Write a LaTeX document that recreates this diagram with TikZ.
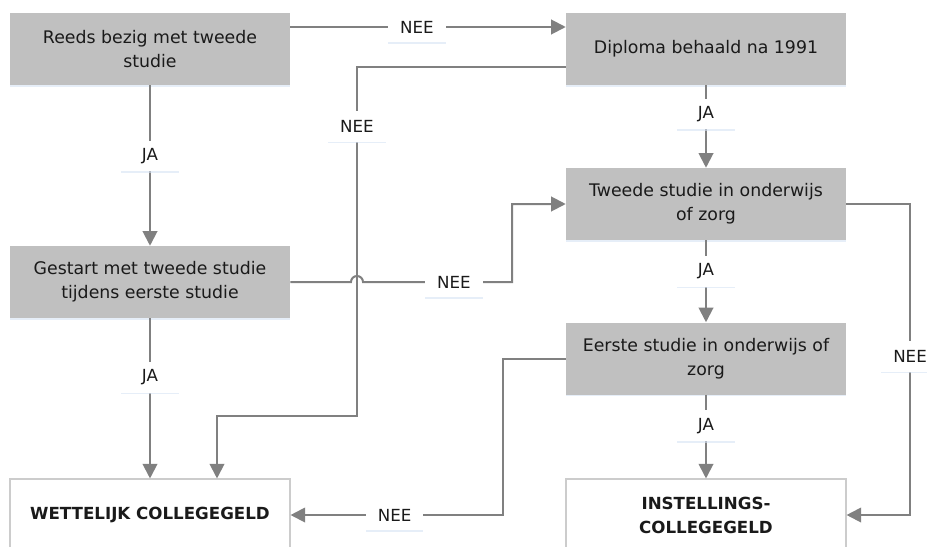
\documentclass[tikz,border=0pt]{standalone}
\usepackage{fontspec}
\setmainfont{DejaVu Sans}
\usepackage{xcolor}
\usetikzlibrary{arrows.meta,shadows}

\definecolor{vraaggrijs}{RGB}{192,192,192}
\definecolor{lijngrijs}{RGB}{128,128,128}
\definecolor{randgrijs}{RGB}{204,204,204}
\definecolor{tekstzwart}{RGB}{26,26,26}
\definecolor{schaduw}{RGB}{214,226,244}

\begin{document}
\begin{tikzpicture}[x=0.75pt,y=0.75pt,yscale=-1,xscale=1,
  vraag/.style={fill=vraaggrijs, minimum width=210pt, minimum height=54pt, inner sep=0pt,
    align=center, text=tekstzwart, font=\fontsize{13}{18}\selectfont,
    drop shadow={shadow xshift=0pt, shadow yshift=-1.2pt, fill=schaduw, opacity=0.6}},
  uitkomst/.style={draw=randgrijs, line width=0.8pt, fill=white, minimum width=210pt, minimum height=54pt,
    inner sep=0pt, align=center, text=tekstzwart, font=\fontsize{12.5}{18}\selectfont\bfseries},
  lbl/.style={fill=white, minimum width=43pt, minimum height=23pt, inner sep=0pt, text=tekstzwart,
    font=\fontsize{12.5}{14}\selectfont,
    drop shadow={shadow xshift=0pt, shadow yshift=-1.2pt, fill=schaduw, opacity=0.6}},
  pijl/.style={draw=lijngrijs, line width=1.5pt, -{Triangle[length=11pt,width=11pt]}}]
\useasboundingbox (0,0) rectangle (927,546);

% Vragen
\node[vraag] (reeds) at (150,49) {Reeds bezig met tweede\\studie};
\node[vraag] (diploma) at (706,49) {Diploma behaald na 1991};
\node[vraag] (gestart) at (150,282) {Gestart met tweede studie\\tijdens eerste studie};
\node[vraag] (tweede) at (706,204) {Tweede studie in onderwijs\\of zorg};
\node[vraag] (eerste) at (706,358.5) {Eerste studie in onderwijs of\\zorg};

% Uitkomsten
\node[uitkomst] (wettelijk) at (150,515) {WETTELIJK COLLEGEGELD};
\node[uitkomst] (instelling) at (706,515) {INSTELLINGS-\\COLLEGEGELD};

% Pijlen
\draw[pijl] (reeds.east |- 0,27) -- node[lbl,pos=0.46] (nee1) {NEE} (diploma.west |- 0,27);
\draw[pijl] (diploma.west |- 0,67) -- (357,67) -- node[lbl,pos=0.17] (nee2) {NEE} (357,416) -- (217,416) -- (wettelijk.north -| 217,0);
\draw[pijl] (reeds.south) -- node[lbl,pos=0.44] (ja1) {JA} (gestart.north);
\draw[pijl] (gestart.east) -- (351,282) arc (180:360:6) -- node[lbl,pos=0.61] (nee3) {NEE} (512,282) |- (tweede.west);
\draw[pijl] (diploma.south) -- node[lbl,pos=0.35] (ja2) {JA} (tweede.north);
\draw[pijl] (tweede.south) -- node[lbl,pos=0.38] (ja3) {JA} (eerste.north);
\draw[pijl] (eerste.south) -- node[lbl,pos=0.37] (ja4) {JA} (instelling.north);
\draw[pijl] (gestart.south) -- node[lbl,pos=0.37] (ja5) {JA} (wettelijk.north);
\draw[pijl] (tweede.east) -- (910,204) -- node[lbl,pos=0.49] (nee4) {NEE} (910,515) -- (instelling.east);
\draw[pijl] (eerste.west) -- (503,358.5) -- (503,515) -- node[lbl,pos=0.51] (nee5) {NEE} (wettelijk.east);

\end{tikzpicture}
\end{document}
